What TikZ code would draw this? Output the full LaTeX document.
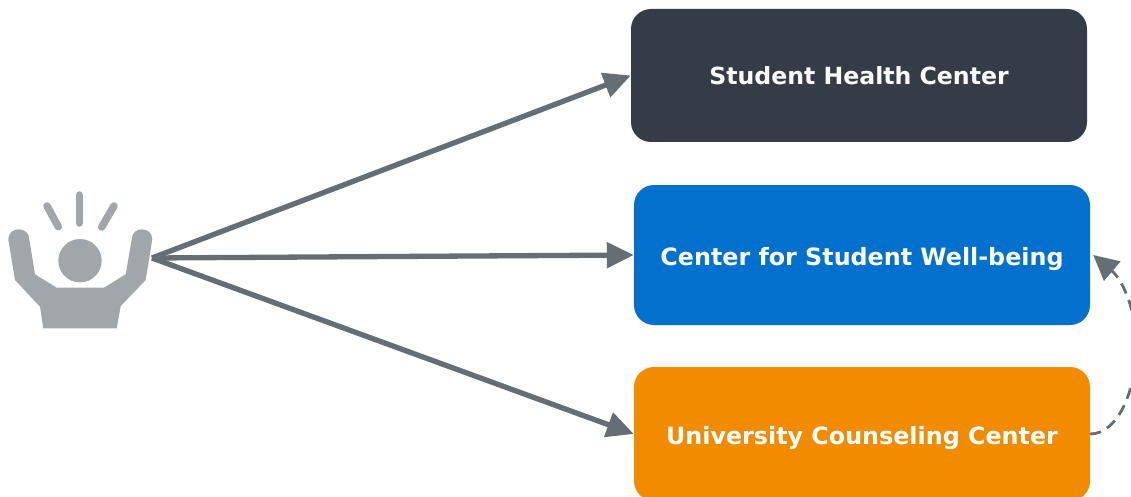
\documentclass[tikz,border=0pt]{standalone}
\usepackage{fontspec}
\setmainfont{DejaVu Sans}
\usetikzlibrary{arrows.meta}
\definecolor{darkbox}{HTML}{343D47}
\definecolor{bluebox}{HTML}{0271CE}
\definecolor{orangebox}{HTML}{F38B00}
\definecolor{conn}{HTML}{656E75}
\definecolor{figure}{HTML}{A1A6AA}
\tikzset{
  box/.style={rounded corners=20pt,minimum width=456pt,inner sep=0pt,font=\fontsize{23.8pt}{28pt}\selectfont\bfseries,text=white},
  link/.style={draw=conn,line width=5.3pt,-{Triangle[length=27pt,width=25pt]}},
  backlink/.style={draw=conn,line width=2.8pt,dash pattern=on 11pt off 7pt,-{Triangle[length=25pt,width=25pt]}},
  ray/.style={draw=figure,line width=7.5pt,line cap=round}
}
\begin{document}
\begin{tikzpicture}[x=1pt,y=-1pt]
\useasboundingbox (0,0) rectangle (1131,497);
\clip (0,0) rectangle (1131,497);
\node[box,fill=darkbox,minimum height=133pt,text depth=0pt] (health) at (859,75.5) {\raisebox{-1pt}{\fontsize{23.6pt}{28pt}\selectfont Student Health Center}};
\node[box,fill=bluebox,minimum height=140pt,text depth=0pt] (wellbeing) at (862,255) {\raisebox{-3.5pt}{Center for Student Well-being}};
\node[box,fill=orangebox,minimum height=134pt,text depth=0pt] (counsel) at (862,434) {\raisebox{-3.5pt}{University Counseling Center}};
\fill[figure] (8.3,239.3) -- (15,280) -- (40,306.7) -- (43.3,328.3) -- (116.7,328.3) -- (120.7,306) -- (145.7,280) -- (152.3,239.3)
  .. controls (152.3,226) and (131.7,226) .. (131.7,239.3)
  -- (125.7,274.3) -- (104,287.7) -- (56.7,287.7) -- (35,274.3) -- (29.3,239.3)
  .. controls (29.3,226) and (8.3,226) .. (8.3,239.3) -- cycle;
\fill[figure] (80,260.7) circle[radius=21.7pt];
\draw[ray] (47,206) -- (58.3,226.7);
\draw[ray] (79.3,195) -- (79.3,223);
\draw[ray] (114,206) -- (101.7,227);
\coordinate (person) at (152,258);
\draw[link] (person) -- (health.west);
\draw[link] (person) -- (wellbeing.west);
\draw[link] (person) -- (counsel.west);
\draw[backlink] (counsel.east) .. controls (1118,434) and (1136,390) .. (1137,345) .. controls (1137,318) and (1125,282) .. ([xshift=3pt]wellbeing.east);
\end{tikzpicture}
\end{document}
